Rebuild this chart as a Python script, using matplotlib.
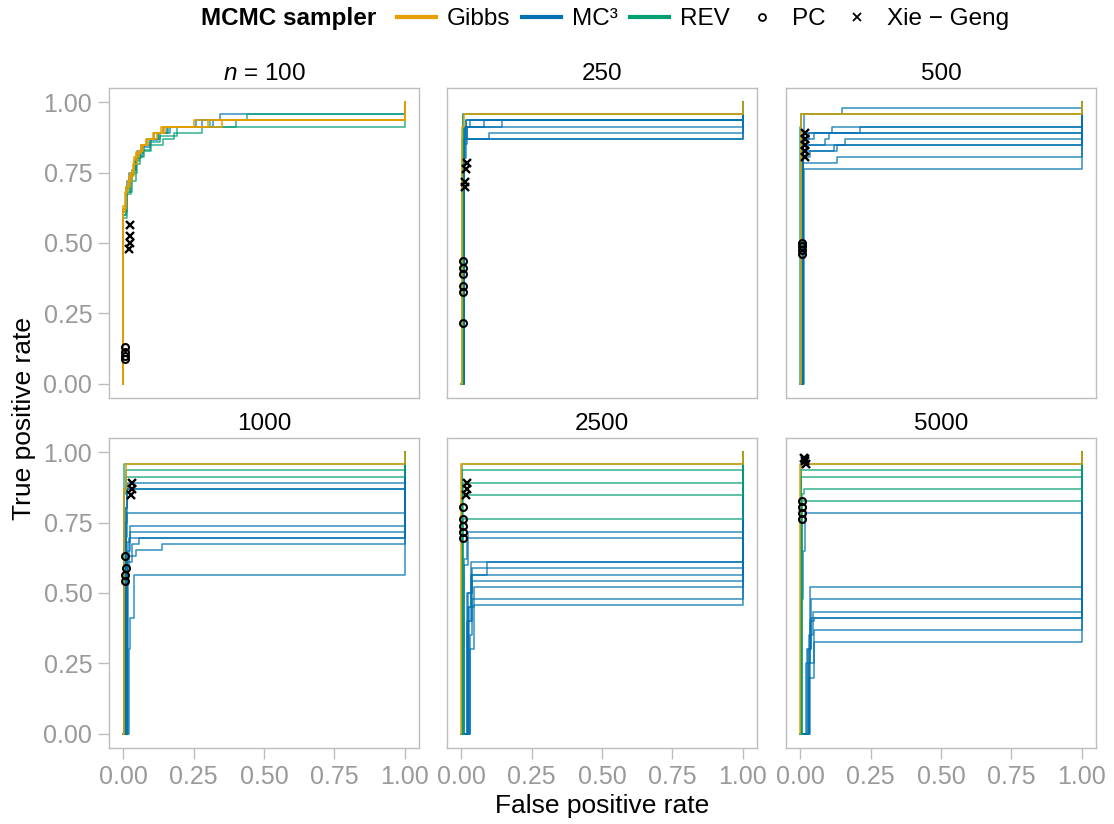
import matplotlib
matplotlib.use("Agg")
import matplotlib.pyplot as plt
from matplotlib.lines import Line2D

plt.rcParams['font.family'] = ['Liberation Sans', 'DejaVu Sans']
plt.rcParams['mathtext.fontset'] = 'custom'
plt.rcParams['mathtext.rm'] = 'Liberation Sans'
plt.rcParams['mathtext.it'] = 'Liberation Sans:italic'
plt.rcParams['mathtext.bf'] = 'Liberation Sans:bold'

# ---------------- data ----------------
sample_sizes = [100, 250, 500, 1000, 2500, 5000]
panel_titles = ["$n$ = 100", "250", "500", "1000", "2500", "5000"]
sampler_names = ["Gibbs", "MC³", "REV"]
sampler_colors = ["#E69F00", "#0072B2", "#009E73"]
tick_values = [0.0, 0.25, 0.5, 0.75, 1.0]
tick_labels = ["0.00", "0.25", "0.50", "0.75", "1.00"]

# ROC curves: each curve is a list of (fpr, tpr) vertices (step 'post')
gibbs_n100 = [
    [(0, 0), (0, 0.63), (0.01, 0.70), (0.021, 0.736), (0.039, 0.795), (0.047, 0.824),
     (0.0625, 0.848), (0.08, 0.870), (0.106, 0.891), (0.133, 0.913), (0.351, 0.935), (1, 1)],
    [(0, 0), (0, 0.61), (0.008, 0.68), (0.018, 0.72), (0.03, 0.76), (0.04, 0.804),
     (0.055, 0.826), (0.07, 0.848), (0.09, 0.870), (0.12, 0.891), (0.15, 0.913), (0.30, 0.935), (1, 1)],
    [(0, 0), (0, 0.62), (0.012, 0.70), (0.025, 0.75), (0.035, 0.78), (0.05, 0.82),
     (0.065, 0.848), (0.085, 0.870), (0.11, 0.891), (0.14, 0.913), (0.25, 0.935), (1, 1)],
]
mc3_n100 = [
    [(0, 0), (0, 0.60), (0.012, 0.68), (0.025, 0.74), (0.035, 0.76), (0.045, 0.80), (0.06, 0.826),
     (0.075, 0.848), (0.10, 0.870), (0.13, 0.891), (0.165, 0.913), (0.26, 0.935), (0.345, 0.957), (1, 1)],
    [(0, 0), (0, 0.62), (0.01, 0.70), (0.02, 0.75), (0.04, 0.79), (0.05, 0.826), (0.065, 0.848),
     (0.085, 0.870), (0.11, 0.891), (0.14, 0.913), (0.28, 0.935), (1, 1)],
    [(0, 0), (0, 0.61), (0.015, 0.72), (0.03, 0.76), (0.045, 0.81), (0.07, 0.84), (0.095, 0.865),
     (0.125, 0.891), (0.155, 0.913), (0.32, 0.935), (0.44, 0.935), (1, 1)],
]
rev_n100 = [
    [(0, 0), (0, 0.59), (0.015, 0.674), (0.028, 0.72), (0.045, 0.78), (0.06, 0.804), (0.075, 0.826),
     (0.10, 0.848), (0.14, 0.870), (0.18, 0.891), (0.28, 0.913), (1, 1)],
    [(0, 0), (0, 0.62), (0.01, 0.69), (0.025, 0.74), (0.04, 0.79), (0.055, 0.82), (0.07, 0.848),
     (0.085, 0.870), (0.125, 0.891), (0.16, 0.913), (0.31, 0.935), (0.44, 0.957), (1, 1)],
    [(0, 0), (0, 0.60), (0.012, 0.68), (0.03, 0.75), (0.05, 0.80), (0.065, 0.83), (0.095, 0.86),
     (0.13, 0.88), (0.19, 0.913), (0.40, 0.935), (1, 1)],
]
gibbs_n250 = [[(0, 0), (0.002, 0.913), (0.01, 0.957), (1, 1)]]
mc3_n250 = [
    [(0, 0), (0.01, 0.87), (0.017, 0.935), (1, 1)],
    [(0, 0), (0.01, 0.87), (0.015, 0.913), (0.033, 0.935), (1, 1)],
    [(0, 0), (0.012, 0.87), (0.02, 0.913), (0.083, 0.935), (1, 1)],
    [(0, 0), (0.01, 0.85), (0.02, 0.913), (0.146, 0.935), (1, 1)],
    [(0, 0), (0.01, 0.87), (0.015, 0.913), (1, 1)],
    [(0, 0), (0.008, 0.80), (0.015, 0.870), (0.10, 0.891), (1, 1)],
    [(0, 0), (0.01, 0.80), (0.017, 0.870), (1, 1)],
    [(0, 0), (0.005, 0.61), (0.012, 0.870), (1, 1)],
    [(0, 0), (0.012, 0.913), (0.017, 0.935), (1, 1)],
]
rev_n250 = [
    [(0, 0), (0.003, 0.87), (0.006, 0.957), (1, 1)],
    [(0, 0), (0.005, 0.957), (1, 1)],
]
gibbs_n500 = [[(0, 0), (0.002, 0.957), (1, 1)]]
mc3_n500 = [
    [(0, 0), (0.01, 0.85), (0.015, 0.957), (0.15, 0.978), (1, 1)],
    [(0, 0), (0.008, 0.80), (0.012, 0.870), (0.05, 0.891), (0.114, 0.913), (1, 1)],
    [(0, 0), (0.012, 0.870), (0.03, 0.891), (0.212, 0.913), (1, 1)],
    [(0, 0), (0.01, 0.848), (0.09, 0.870), (0.103, 0.891), (1, 1)],
    [(0, 0), (0.01, 0.826), (0.02, 0.848), (0.158, 0.870), (1, 1)],
    [(0, 0), (0.01, 0.80), (0.02, 0.826), (0.132, 0.848), (1, 1)],
    [(0, 0), (0.012, 0.783), (0.13, 0.804), (1, 1)],
    [(0, 0), (0.015, 0.762), (1, 1)],
    [(0, 0), (0.006, 0.70), (0.01, 0.804), (0.035, 0.826), (0.12, 0.848), (1, 1)],
    [(0, 0), (0.008, 0.870), (0.012, 0.891), (1, 1)],
]
rev_n500 = [
    [(0, 0), (0.001, 0.913), (0.003, 0.957), (1, 1)],
    [(0, 0), (0.002, 0.957), (1, 1)],
]
gibbs_n1000 = [[(0, 0), (0.002, 0.870), (0.01, 0.957), (1, 1)]]
mc3_n1000 = [
    [(0, 0), (0.008, 0.80), (0.013, 0.891), (1, 1)],
    [(0, 0), (0.01, 0.80), (0.013, 0.870), (1, 1)],
    [(0, 0), (0.012, 0.70), (0.015, 0.783), (1, 1)],
    [(0, 0), (0.015, 0.65), (0.024, 0.739), (1, 1)],
    [(0, 0), (0.015, 0.68), (0.024, 0.717), (1, 1)],
    [(0, 0), (0.014, 0.61), (0.03, 0.674), (0.058, 0.696), (1, 1)],
    [(0, 0), (0.008, 0.60), (0.012, 0.630), (0.045, 0.652), (0.137, 0.674), (1, 1)],
    [(0, 0), (0.02, 0.30), (0.026, 0.41), (0.037, 0.565), (1, 1)],
    [(0, 0), (0.016, 0.60), (0.02, 0.696), (1, 1)],
    [(0, 0), (0.01, 0.75), (0.013, 0.870), (1, 1)],
]
rev_n1000 = [
    [(0, 0), (0.003, 0.85), (0.012, 0.935), (1, 1)],
    [(0, 0), (0.004, 0.87), (0.012, 0.913), (1, 1)],
    [(0, 0), (0.004, 0.957), (1, 1)],
]
gibbs_n2500 = [[(0, 0), (0.001, 0.957), (1, 1)]]
mc3_n2500 = [
    [(0, 0), (0.01, 0.60), (0.023, 0.717), (1, 1)],
    [(0, 0), (0.012, 0.62), (0.022, 0.696), (1, 1)],
    [(0, 0), (0.02, 0.40), (0.035, 0.609), (1, 1)],
    [(0, 0), (0.025, 0.45), (0.035, 0.565), (0.092, 0.609), (1, 1)],
    [(0, 0), (0.02, 0.50), (0.037, 0.587), (1, 1)],
    [(0, 0), (0.025, 0.40), (0.04, 0.543), (1, 1)],
    [(0, 0), (0.028, 0.45), (0.045, 0.522), (1, 1)],
    [(0, 0), (0.03, 0.35), (0.04, 0.478), (1, 1)],
    [(0, 0), (0.03, 0.30), (0.045, 0.457), (1, 1)],
    [(0, 0), (0.025, 0.50), (0.04, 0.565), (1, 1)],
]
rev_n2500 = [
    [(0, 0), (0.003, 0.935), (1, 1)],
    [(0, 0), (0.004, 0.85), (0.006, 0.891), (1, 1)],
    [(0, 0), (0.005, 0.848), (1, 1)],
    [(0, 0), (0.006, 0.762), (1, 1)],
    [(0, 0), (0.002, 0.957), (1, 1)],
]
gibbs_n5000 = [[(0, 0), (0.001, 0.957), (1, 1)]]
mc3_n5000 = [
    [(0, 0), (0.004, 0.48), (0.01, 0.65), (0.018, 0.783), (1, 1)],
    [(0, 0), (0.02, 0.25), (0.035, 0.522), (1, 1)],
    [(0, 0), (0.025, 0.30), (0.04, 0.478), (1, 1)],
    [(0, 0), (0.03, 0.35), (0.045, 0.434), (1, 1)],
    [(0, 0), (0.028, 0.30), (0.035, 0.40), (0.05, 0.412), (1, 1)],
    [(0, 0), (0.03, 0.25), (0.048, 0.369), (1, 1)],
    [(0, 0), (0.032, 0.20), (0.048, 0.326), (1, 1)],
    [(0, 0), (0.034, 0.30), (0.04, 0.412), (1, 1)],
]
rev_n5000 = [
    [(0, 0), (0.004, 0.935), (1, 1)],
    [(0, 0), (0.004, 0.913), (1, 1)],
    [(0, 0), (0.006, 0.85), (0.013, 0.870), (1, 1)],
    [(0, 0), (0.008, 0.827), (1, 1)],
    [(0, 0), (0.003, 0.957), (1, 1)],
]

# PC estimates (fpr, tpr) and Xie-Geng estimates
pc_fpr_n100 = [0.005, 0.005, 0.005, 0.005]
pc_tpr_n100 = [0.132, 0.112, 0.100, 0.088]
xg_fpr_n100 = [0.025, 0.025, 0.023, 0.022]
xg_tpr_n100 = [0.565, 0.524, 0.500, 0.477]
pc_fpr_n250 = [0.008, 0.008, 0.008, 0.008, 0.008, 0.005]
pc_tpr_n250 = [0.435, 0.413, 0.391, 0.347, 0.326, 0.217]
xg_fpr_n250 = [0.022, 0.018, 0.015, 0.015]
xg_tpr_n250 = [0.783, 0.762, 0.718, 0.699]
pc_fpr_n500 = [0.008, 0.008, 0.007, 0.007]
pc_tpr_n500 = [0.500, 0.489, 0.475, 0.460]
xg_fpr_n500 = [0.017, 0.017, 0.017, 0.016, 0.016]
xg_tpr_n500 = [0.891, 0.870, 0.848, 0.826, 0.804]
pc_fpr_n1000 = [0.008, 0.009, 0.008, 0.008]
pc_tpr_n1000 = [0.630, 0.587, 0.565, 0.543]
xg_fpr_n1000 = [0.031, 0.030, 0.028]
xg_tpr_n1000 = [0.891, 0.870, 0.848]
pc_fpr_n2500 = [0.006, 0.006, 0.006, 0.006, 0.006]
pc_tpr_n2500 = [0.804, 0.762, 0.739, 0.717, 0.696]
xg_fpr_n2500 = [0.021, 0.020, 0.019]
xg_tpr_n2500 = [0.891, 0.870, 0.848]
pc_fpr_n5000 = [0.006, 0.008, 0.008, 0.007]
pc_tpr_n5000 = [0.827, 0.805, 0.783, 0.762]
xg_fpr_n5000 = [0.013, 0.018, 0.020, 0.016]
xg_tpr_n5000 = [0.978, 0.967, 0.957, 0.975]

panels = [
    (gibbs_n100, mc3_n100, rev_n100, pc_fpr_n100, pc_tpr_n100, xg_fpr_n100, xg_tpr_n100),
    (gibbs_n250, mc3_n250, rev_n250, pc_fpr_n250, pc_tpr_n250, xg_fpr_n250, xg_tpr_n250),
    (gibbs_n500, mc3_n500, rev_n500, pc_fpr_n500, pc_tpr_n500, xg_fpr_n500, xg_tpr_n500),
    (gibbs_n1000, mc3_n1000, rev_n1000, pc_fpr_n1000, pc_tpr_n1000, xg_fpr_n1000, xg_tpr_n1000),
    (gibbs_n2500, mc3_n2500, rev_n2500, pc_fpr_n2500, pc_tpr_n2500, xg_fpr_n2500, xg_tpr_n2500),
    (gibbs_n5000, mc3_n5000, rev_n5000, pc_fpr_n5000, pc_tpr_n5000, xg_fpr_n5000, xg_tpr_n5000),
]

# ---------------- figure ----------------
W, H = 1114, 824
fig = plt.figure(figsize=(W / 100, H / 100), dpi=100)

col_left = [109, 447, 786]
row_top = [88, 438]
pw, ph = 310, 310
grey_txt = "#9A9A9A"
grey_line = "#BDBDBD"

for i, (gibbs, mc3, rev, pcx, pcy, xgx, xgy) in enumerate(panels):
    r, c = divmod(i, 3)
    ax = fig.add_axes([col_left[c] / W, 1 - (row_top[r] + ph) / H, pw / W, ph / H])
    for curves, color, z, a in ((mc3, sampler_colors[1], 2, 0.8),
                                (rev, sampler_colors[2], 3, 0.8),
                                (gibbs, sampler_colors[0], 4, 1.0)):
        for cv in curves:
            xs = [p[0] for p in cv]
            ys = [p[1] for p in cv]
            ax.step(xs, ys, where='post', color=color, lw=1.1, alpha=a, zorder=z)
    ax.plot(pcx, pcy, linestyle='none', marker='o', ms=5, mfc='none', mec='black', mew=1.5, zorder=6)
    ax.plot(xgx, xgy, linestyle='none', marker='x', ms=6, mec='black', mew=1.7, zorder=6)
    ax.set_xlim(-0.05, 1.05)
    ax.set_ylim(-0.05, 1.05)
    for s in ax.spines.values():
        s.set_color(grey_line)
        s.set_linewidth(1.0)
    ax.set_xticks(tick_values)
    ax.set_yticks(tick_values)
    ax.tick_params(axis='both', colors=grey_line, labelcolor=grey_txt, labelsize=18,
                   length=8, width=1.0, direction='out', pad=4)
    if r == 1:
        ax.set_xticklabels(tick_labels)
    else:
        ax.tick_params(axis='x', length=0, labelbottom=False)
    if c == 0:
        ax.set_yticklabels(tick_labels)
    else:
        ax.tick_params(axis='y', length=0, labelleft=False)
    ax.set_title(panel_titles[i], fontsize=17.5, pad=6, color='black')

fig.text(602.5 / W, 1 - 806 / H, "False positive rate", ha='center', va='center', fontsize=19)
fig.text(24 / W, 1 - 418 / H, "True positive rate", ha='center', va='center', fontsize=19, rotation=90)

# legend
handles = [Line2D([], [], color=sampler_colors[0], lw=3),
           Line2D([], [], color=sampler_colors[1], lw=3),
           Line2D([], [], color=sampler_colors[2], lw=3),
           Line2D([], [], linestyle='none', marker='o', ms=5, mfc='none', mec='black', mew=1.3),
           Line2D([], [], linestyle='none', marker='x', ms=6, mec='black', mew=1.3)]
labels = sampler_names + ["PC", "Xie − Geng"]
fig.text(201 / W, 1 - 19 / H, "MCMC sampler", ha='left', va='center', fontsize=17.5, fontweight='bold')
fig.legend(handles, labels, loc='center left', bbox_to_anchor=(397 / W, 1 - 19 / H), ncol=5,
           frameon=False, fontsize=17.5, handlelength=1.6, handletextpad=0.45,
           columnspacing=0.5, borderpad=0, borderaxespad=0)

fig.savefig("out.png", dpi=100)
